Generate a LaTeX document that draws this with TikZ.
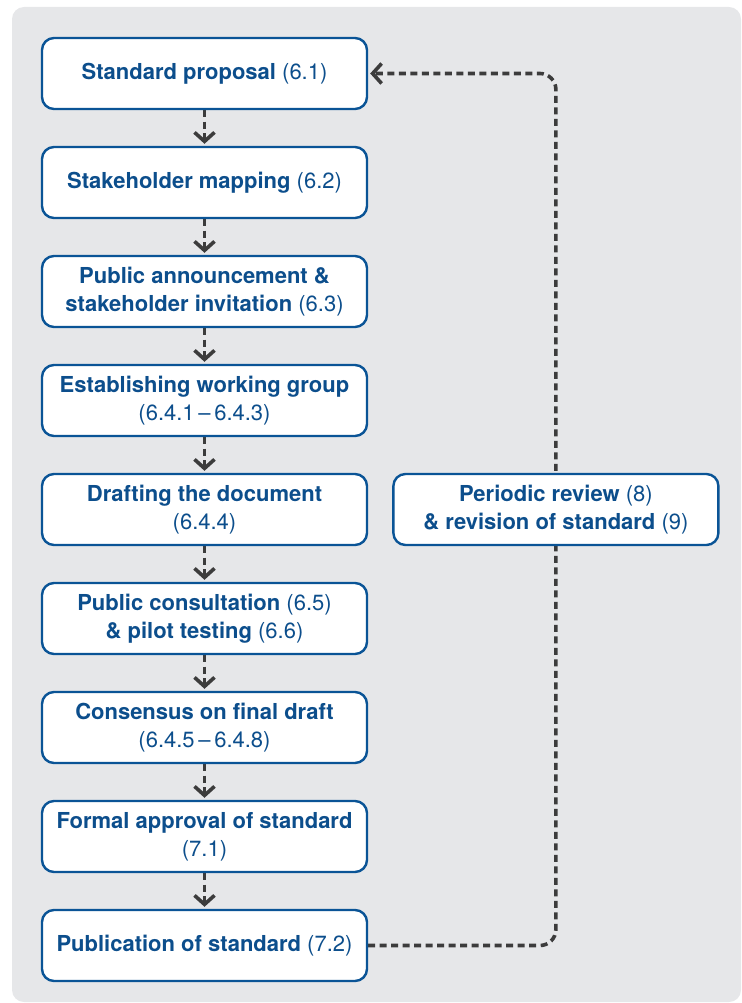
\documentclass[tikz,border=0pt]{standalone}
\usepackage{fontspec}
\setmainfont{TeX Gyre Heros}
\usepackage{tikz}
\usetikzlibrary{positioning,calc,arrows.meta}
\definecolor{panelgray}{RGB}{230,231,233}
\definecolor{boxblue}{RGB}{10,84,150}
\definecolor{textblue}{RGB}{12,78,140}
\definecolor{arrowgray}{RGB}{60,60,60}
\tikzset{x=1pt, y=1pt}
\tikzset{stage/.style={draw=boxblue, line width=2.4pt, fill=white, rounded corners=12pt,
    minimum width=325pt, minimum height=71pt, inner sep=0pt, align=center, text=textblue,
    font=\fontsize{22}{28}\selectfont\bfseries}}
\tikzset{flow/.style={draw=arrowgray, line width=3.6pt, dash pattern=on 7pt off 4.5pt,
    -{Straight Barb[length=9pt,width=20pt]}, shorten >=2pt}}
\newcommand{\refno}[1]{\textmd{(#1)}}
\pgfdeclarelayer{bglayer}
\pgfdeclarelayer{edgelayer}
\pgfsetlayers{bglayer,edgelayer,main}

\begin{document}
\begin{tikzpicture}
        \useasboundingbox (0,0) rectangle (741,-1003);
        \begin{pgfonlayer}{bglayer}
        \fill[panelgray, rounded corners=12pt] (12,-7) rectangle (741,-1002);
        \end{pgfonlayer}
        \node[stage] (p1) at (204.5,-73.5) {Standard proposal \refno{6.1}};
        \node[stage] (p2) [below=35.6pt of p1] {Stakeholder mapping \refno{6.2}};
        \node[stage] (p3) [below=35.6pt of p2] {Public announcement \&\\stakeholder invitation \refno{6.3}};
        \node[stage] (p4) [below=35.6pt of p3] {Establishing working group\\\refno{6.4.1\,--\,6.4.3}};
        \node[stage] (p5) [below=35.6pt of p4] {Drafting the document\\\refno{6.4.4}};
        \node[stage] (p6) [below=35.6pt of p5] {Public consultation \refno{6.5}\\\& pilot testing \refno{6.6}};
        \node[stage] (p7) [below=35.6pt of p6] {Consensus on final draft\\\refno{6.4.5\,--\,6.4.8}};
        \node[stage] (p8) [below=35.6pt of p7] {Formal approval of standard\\\refno{7.1}};
        \node[stage] (p9) [below=35.6pt of p8] {Publication of standard \refno{7.2}};
        \node[stage] (rev) [right=24pt of p5] {Periodic review \refno{8}\\\& revision of standard \refno{9}};
        \begin{pgfonlayer}{edgelayer}
        \foreach \a/\b in {p1/p2,p2/p3,p3/p4,p4/p5,p5/p6,p6/p7,p7/p8,p8/p9}
            \draw[flow] (\a) -- (\b);
        \draw[flow, rounded corners=16pt] (p9.east) -| (rev.center) |- (p1.east);
        \end{pgfonlayer}
\end{tikzpicture}
\end{document}
